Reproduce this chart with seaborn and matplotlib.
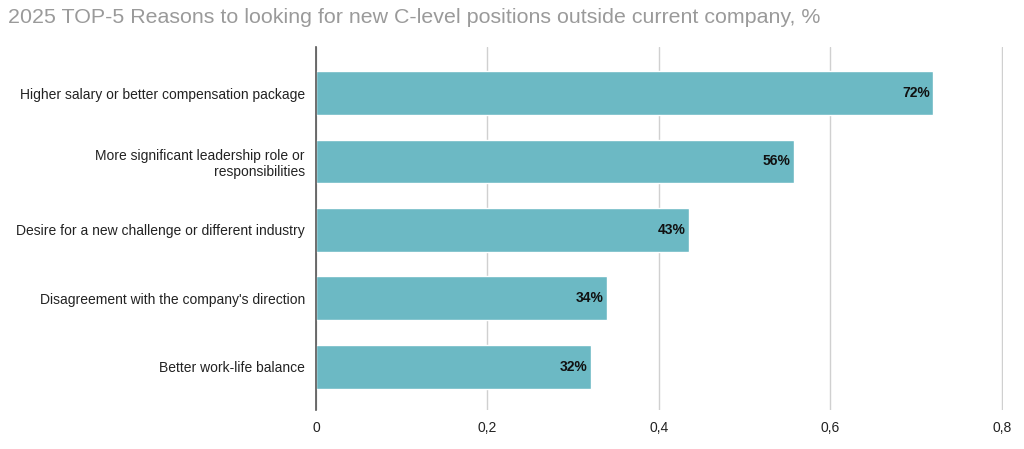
"""
2025 TOP-5 reasons for C-level job search, horizontal bar chart
"""

import matplotlib
matplotlib.use('Agg')
import matplotlib.pyplot as plt
import seaborn as sns
import pandas as pd
from matplotlib.ticker import FuncFormatter

reasons = [
    "Higher salary or better compensation package",
    "More significant leadership role or\nresponsibilities",
    "Desire for a new challenge or different industry",
    "Disagreement with the company's direction",
    "Better work-life balance",
]
shares = [0.72, 0.557, 0.435, 0.339, 0.321]
value_labels = ["72%", "56%", "43%", "34%", "32%"]

BAR_COLOR = "#6cb9c4"

sns.set_style("white")
plt.rcParams['font.family'] = ['Liberation Sans', 'DejaVu Sans']

df = pd.DataFrame({"reason": reasons, "share": shares})

fig = plt.figure(figsize=(10.24, 4.49), dpi=100)
ax = fig.add_axes([0.3086, 0.087, 0.6705, 0.808])

sns.barplot(data=df, x="share", y="reason", color=BAR_COLOR, width=0.64,
            saturation=1, ax=ax, zorder=3)

ax.set_xlim(0, 0.8008)
ax.set_ylim(4.63, -0.67)
ax.set_xticks([0, 0.2, 0.4, 0.6, 0.8])
ax.xaxis.set_major_formatter(FuncFormatter(lambda v, p: f"{v:g}".replace(".", ",")))
ax.grid(axis="x", color="#d0d0d0", linewidth=1, zorder=0)
ax.set_xlabel("")
ax.set_ylabel("")

for s in ["top", "right", "bottom"]:
    ax.spines[s].set_visible(False)
ax.spines["left"].set_color("#555555")
ax.spines["left"].set_linewidth(1.2)
ax.spines["left"].set_zorder(4)

ax.tick_params(axis="both", length=0, labelsize=10, colors="#222222")
ax.tick_params(axis="y", pad=8)
ax.tick_params(axis="x", pad=8)
for lbl in ax.get_yticklabels():
    lbl.set_horizontalalignment("right")
    lbl.set_multialignment("right")

for i, (v, txt) in enumerate(zip(shares, value_labels)):
    ax.text(v - 0.004, i, txt, ha="right", va="center", fontsize=10,
            fontweight="bold", color="#111111", zorder=5)

fig.text(0.008, 0.96, "2025 TOP-5 Reasons to looking for new C-level positions outside current company, %",
         fontsize=15.4, color="#9a9a9a", ha="left", va="center")

fig.savefig("out.png", dpi=100)
